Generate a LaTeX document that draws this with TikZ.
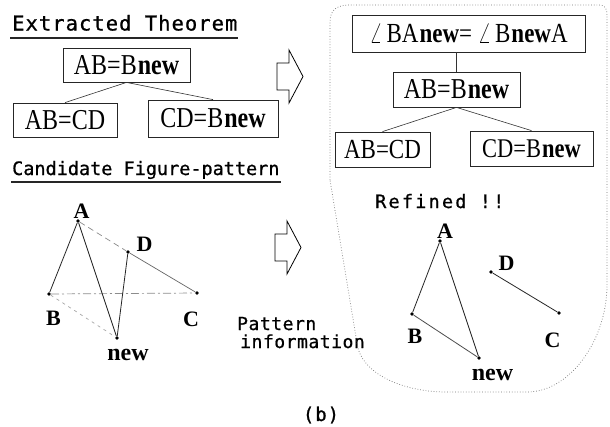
\documentclass[tikz,border=0pt]{standalone}
\usepackage{fontspec}
\usepackage{graphicx}
\setmainfont{Liberation Serif}
\newfontfamily\monoA{DejaVu Sans Mono}[LetterSpace=5,FakeBold=0.8]
\newfontfamily\monoC{DejaVu Sans Mono}[LetterSpace=0,FakeBold=0.8]
\newfontfamily\monoD{DejaVu Sans Mono}[LetterSpace=3,FakeBold=0.8]
\newfontfamily\monoB{DejaVu Sans Mono}[LetterSpace=12,FakeBold=0.8]
\newcommand\tallt[1]{\scalebox{1}[1.2]{#1}}
\newcommand\nw{\kern1pt\textbf{new}}
\tikzset{
  box/.style={draw=black!85, line width=0.8pt, inner sep=0pt, font=\fontsize{24}{26}\selectfont},
  conn/.style={draw=black!80, line width=0.6pt},
  heading/.style={anchor=base west, inner sep=0pt},
  uline/.style={line width=1.6pt, draw=black!85},
  dotpt/.style={circle, fill=black, inner sep=0pt, minimum size=3.6pt},
  plabel/.style={inner sep=0pt, font=\fontsize{22}{24}\selectfont\bfseries},
  nlabel/.style={inner sep=0pt, font=\fontsize{24}{26}\selectfont\bfseries},
  solidln/.style={draw=black!85, line width=0.8pt},
  greyln/.style={draw=black!45, line width=0.7pt},
  outline/.style={draw=black!55, dotted, line width=0.7pt},
  blockarrow/.pic={\draw[line width=0.8pt] (0,0) -- (12,0) -- (12,-13) -- (26,13.5) -- (12,40) -- (12,27) -- (0,27) -- cycle;}
}
\begin{document}
\begin{tikzpicture}[x=1pt,y=-1pt]
\useasboundingbox (0,0) rectangle (610,426);
\fill[white] (0,0) rectangle (610,426);

% headings
\node[heading, font=\monoA\fontsize{20.5}{22}\selectfont] (h1) at (12,30.5) {Extracted Theorem};
\draw[uline] ([shift={(-2,7.5)}]h1.base west) -- ([shift={(0,7.5)}]h1.base east);
\node[heading, font=\monoC\fontsize{18.5}{20}\selectfont] (h2) at (12,175) {Candidate Figure-pattern};
\draw[uline] ([shift={(-1,7)}]h2.base west) -- ([shift={(1,7)}]h2.base east);

% left tree
\node[box, minimum width=127pt, minimum height=34pt] (t1) at (126.5,65) {\tallt{AB=B\nw}};
\node[box, minimum width=104pt, minimum height=34pt] (l1) at (65,120) {\tallt{AB=CD}};
\node[box, minimum width=130pt, minimum height=37pt] (r1) at (213,118.5) {\tallt{CD=B\nw}};
\draw[conn] (t1.south) -- (l1.north);
\draw[conn] (t1.south) -- (r1.north);

% arrows
\pic at (277,63) {blockarrow};
\pic at (275,234) {blockarrow};

% left figure
\node[dotpt] (A1) at (78,221) {};
\node[dotpt] (B1) at (49,294) {};
\node[dotpt] (C1) at (197,293) {};
\node[dotpt] (D1) at (128,252) {};
\node[dotpt] (N1) at (117,338) {};
\draw[greyln, dash pattern=on 6pt off 4pt] (A1) -- (D1);
\draw[greyln, draw=black!60] (D1) -- (C1);
\draw[greyln, dash pattern=on 8pt off 3pt on 2pt off 3pt] (B1) -- (C1);
\draw[greyln, draw=black!35, dash pattern=on 3pt off 4pt] (B1) -- (N1);
\draw[solidln] (A1) -- (B1);
\draw[solidln] (A1) -- (N1);
\draw[solidln] (N1) -- (D1);
\node[plabel] (lA1) at (81.5,211) {A};
\node[plabel] (lD1) at (144.5,244) {D};
\node[plabel] (lB1) at (53.5,318.5) {B};
\node[plabel] (lC1) at (191,319.5) {C};
\node[nlabel] (lN1) at (128,355) {new};

% pattern information
\node[heading, font=\monoD\fontsize{18}{19}\selectfont] (p1) at (237,330) {Pattern};
\node[heading, font=\monoD\fontsize{18}{19}\selectfont] (p2) at (240,348) {information};

% dotted outline of refined region
\draw[outline] (330,180) -- (330,22) .. controls (330,9) and (338,5) .. (350,5) -- (598,5)
  .. controls (605,5) and (607,8) .. (607,15) -- (607,285)
  .. controls (607,340) and (570,392) .. (527,392) -- (447,392)
  .. controls (400,392) and (360,372) .. (357,343) -- cycle;

% right tree
\node[box, minimum width=233pt, minimum height=37pt, font=\fontsize{23}{25}\selectfont] (tb) at (468.5,33.5) {\tallt{$\angle$\,BA\nw= $\angle$\,B\nw A}};
\node[box, minimum width=127pt, minimum height=35pt] (mb) at (456.5,89.5) {\tallt{AB=B\nw}};
\node[box, minimum width=95pt, minimum height=35pt, font=\fontsize{23}{25}\selectfont] (lb) at (382.5,149.5) {\tallt{AB=CD}};
\node[box, minimum width=123pt, minimum height=35pt, font=\fontsize{22.5}{25}\selectfont] (rb) at (531.5,148.5) {\tallt{CD=B\nw}};
\draw[conn] (mb.north) -- (mb.north |- tb.south);
\draw[conn] (mb.south) -- (lb.north);
\draw[conn] (mb.south) -- (rb.north);

\node[heading, font=\monoB\fontsize{18.5}{20}\selectfont] (ref) at (375,208) {Refined !!};

% right figure
\node[dotpt] (A2) at (440,241) {};
\node[dotpt] (B2) at (412,314) {};
\node[dotpt] (C2) at (559,313) {};
\node[dotpt] (D2) at (491,272) {};
\node[dotpt] (N2) at (479,358) {};
\draw[solidln] (A2) -- (B2);
\draw[solidln] (A2) -- (N2);
\draw[solidln, draw=black!70] (B2) -- (N2);
\draw[solidln] (D2) -- (C2);
\node[plabel] (lA2) at (445,231) {A};
\node[plabel] (lD2) at (506.5,263.5) {D};
\node[plabel] (lB2) at (415,336) {B};
\node[plabel] (lC2) at (552.5,340) {C};
\node[nlabel] (lN2) at (492.5,375) {new};

% caption
\node[inner sep=0pt, font=\monoA\fontsize{19}{21}\selectfont] (cap) at (321,415) {(b)};
\end{tikzpicture}
\end{document}
